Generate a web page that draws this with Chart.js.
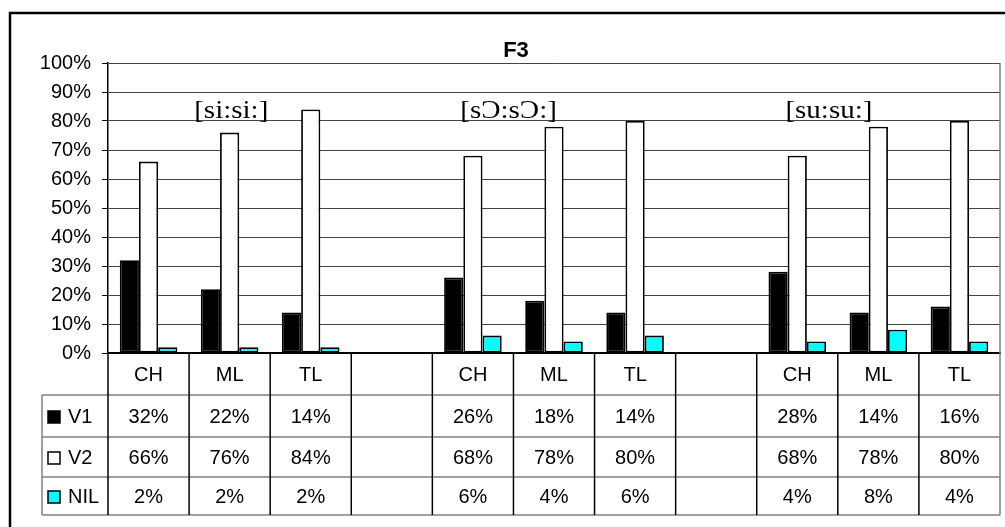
<!DOCTYPE html>
<html>
<head>
<meta charset="utf-8">
<title>F3</title>
<script src="https://cdn.jsdelivr.net/npm/chart.js@4/dist/chart.umd.min.js"></script>
<style>
  html, body { margin: 0; padding: 0; background: #fff; }
  canvas { display: block; }
</style>
</head>
<body>
<canvas id="chart" width="1005" height="527"></canvas>
<script>
// Categories (empty slots separate the three syllable groups)
const categories = ['CH', 'ML', 'TL', '', 'CH', 'ML', 'TL', '', 'CH', 'ML', 'TL'];

// Series values in percent
const v1Values  = [32, 22, 14, null, 26, 18, 14, null, 28, 14, 16];
const v2Values  = [66, 76, 84, null, 68, 78, 80, null, 68, 78, 80];
const nilValues = [2, 2, 2, null, 6, 4, 6, null, 4, 8, 4];

const seriesNames = ['V1', 'V2', 'NIL'];
const groupLabels = ['[si:si:]', '[s\u0186:s\u0186:]', '[su:su:]'];
const yTicks = [0, 10, 20, 30, 40, 50, 60, 70, 80, 90, 100];
const chartTitle = 'F3';

const FONT = '"Liberation Sans", Arial, sans-serif';
const SERIF = '"Liberation Serif", "Times New Roman", serif';
const fills = ['#000000', '#ffffff', '#00ffff'];

// Where each group label sits: category index and value height
const groupAnchors = [
  { idx: 1.02, val: 85 },
  { idx: 4.44, val: 85 },
  { idx: 8.39, val: 85 }
];

const frameAndTable = {
  id: 'frameAndTable',
  afterDraw(chart) {
    const ctx = chart.ctx;
    const area = chart.chartArea;
    const x = chart.scales.x;
    const y = chart.scales.y;
    const n = categories.length;
    const catW = (area.right - area.left) / n;

    ctx.save();

    // outer frame (top and left edges)
    ctx.strokeStyle = '#000';
    ctx.lineWidth = 2.5;
    ctx.beginPath();
    ctx.moveTo(10, 527);
    ctx.lineTo(10, 13);
    ctx.lineTo(1005, 13);
    ctx.stroke();

    // plot area right edge
    ctx.strokeStyle = '#808080';
    ctx.lineWidth = 1.5;
    ctx.beginPath();
    ctx.moveTo(area.right, area.top);
    ctx.lineTo(area.right, area.bottom);
    ctx.stroke();

    // title
    ctx.fillStyle = '#000';
    ctx.font = 'bold 22px ' + FONT;
    ctx.textAlign = 'center';
    ctx.textBaseline = 'alphabetic';
    ctx.fillText(chartTitle, 516, 57);

    // group labels
    ctx.font = '25px ' + SERIF;
    ctx.textBaseline = 'middle';
    groupAnchors.forEach((a, i) => {
      const px = x.getPixelForValue(0) + a.idx * catW;
      const py = y.getPixelForValue(a.val);
      ctx.save();
      ctx.translate(px, py + 5);
      ctx.scale(1.16, 1);
      ctx.fillText(groupLabels[i], 0, 0);
      ctx.restore();
    });

    // data table
    const rowTop = area.bottom + 42;
    const rowH = [42, 40, 38];
    const rows = [rowTop];
    rowH.forEach(h => rows.push(rows[rows.length - 1] + h));
    const tableLeft = 42;
    const tableBottom = rows[rows.length - 1];

    ctx.strokeStyle = '#808080';
    ctx.lineWidth = 1.5;
    rows.forEach(ry => {
      ctx.beginPath();
      ctx.moveTo(tableLeft, ry);
      ctx.lineTo(area.right, ry);
      ctx.stroke();
    });
    ctx.beginPath();
    ctx.moveTo(tableLeft, rowTop);
    ctx.lineTo(tableLeft, tableBottom);
    ctx.moveTo(area.right, area.bottom);
    ctx.lineTo(area.right, tableBottom);
    ctx.stroke();

    ctx.strokeStyle = '#000';
    ctx.lineWidth = 1.5;
    for (let i = 0; i < n; i++) {
      const bx = area.left + i * catW;
      ctx.beginPath();
      ctx.moveTo(bx, area.bottom);
      ctx.lineTo(bx, tableBottom);
      ctx.stroke();
    }

    const seriesValues = [v1Values, v2Values, nilValues];
    ctx.font = '20px ' + FONT;
    ctx.textBaseline = 'middle';
    seriesValues.forEach((vals, r) => {
      const cy = rows[r] + rowH[r] / 2 + 1;
      // legend key
      ctx.fillStyle = fills[r];
      ctx.strokeStyle = '#000';
      ctx.lineWidth = 1.5;
      ctx.fillRect(48, cy - 6, 12, 12);
      ctx.strokeRect(48, cy - 6, 12, 12);
      ctx.fillStyle = '#000';
      ctx.textAlign = 'left';
      ctx.fillText(seriesNames[r], 68, cy);
      // values
      ctx.textAlign = 'center';
      vals.forEach((v, i) => {
        if (v === null) return;
        ctx.fillText(v + '%', x.getPixelForValue(i), cy);
      });
    });

    ctx.restore();
  }
};

const barStyle = {
  borderColor: '#000',
  borderWidth: 1.8,
  borderSkipped: false,
  categoryPercentage: 0.71,
  barPercentage: 1.0
};

new Chart(document.getElementById('chart'), {
  type: 'bar',
  data: {
    labels: categories,
    datasets: [
      Object.assign({ label: seriesNames[0], data: v1Values, backgroundColor: fills[0] }, barStyle),
      Object.assign({ label: seriesNames[1], data: v2Values, backgroundColor: fills[1] }, barStyle),
      Object.assign({ label: seriesNames[2], data: nilValues, backgroundColor: fills[2] }, barStyle)
    ]
  },
  options: {
    responsive: false,
    animation: false,
    devicePixelRatio: 1,
    layout: { padding: { left: 0, top: 63, right: 5, bottom: 132 } },
    plugins: {
      legend: { display: false },
      title: { display: false },
      tooltip: { enabled: false }
    },
    scales: {
      x: {
        grid: { display: false, drawTicks: false },
        border: { display: true, color: '#000', width: 2 },
        ticks: {
          color: '#000',
          font: { family: FONT, size: 20 },
          padding: 10,
          maxRotation: 0,
          autoSkip: false
        },
        afterFit(scale) { scale.height = 42; }
      },
      y: {
        min: 0,
        max: 100,
        afterBuildTicks(scale) { scale.ticks = yTicks.map(v => ({ value: v })); },
        grid: { color: '#444', lineWidth: 1, tickColor: '#000', tickLength: 6 },
        border: { display: true, color: '#000', width: 1.5 },
        ticks: {
          color: '#000',
          font: { family: FONT, size: 20 },
          padding: 11,
          callback: v => v + '%'
        },
        afterFit(scale) { scale.width = 108; }
      }
    }
  },
  plugins: [frameAndTable]
});
</script>
</body>
</html>
